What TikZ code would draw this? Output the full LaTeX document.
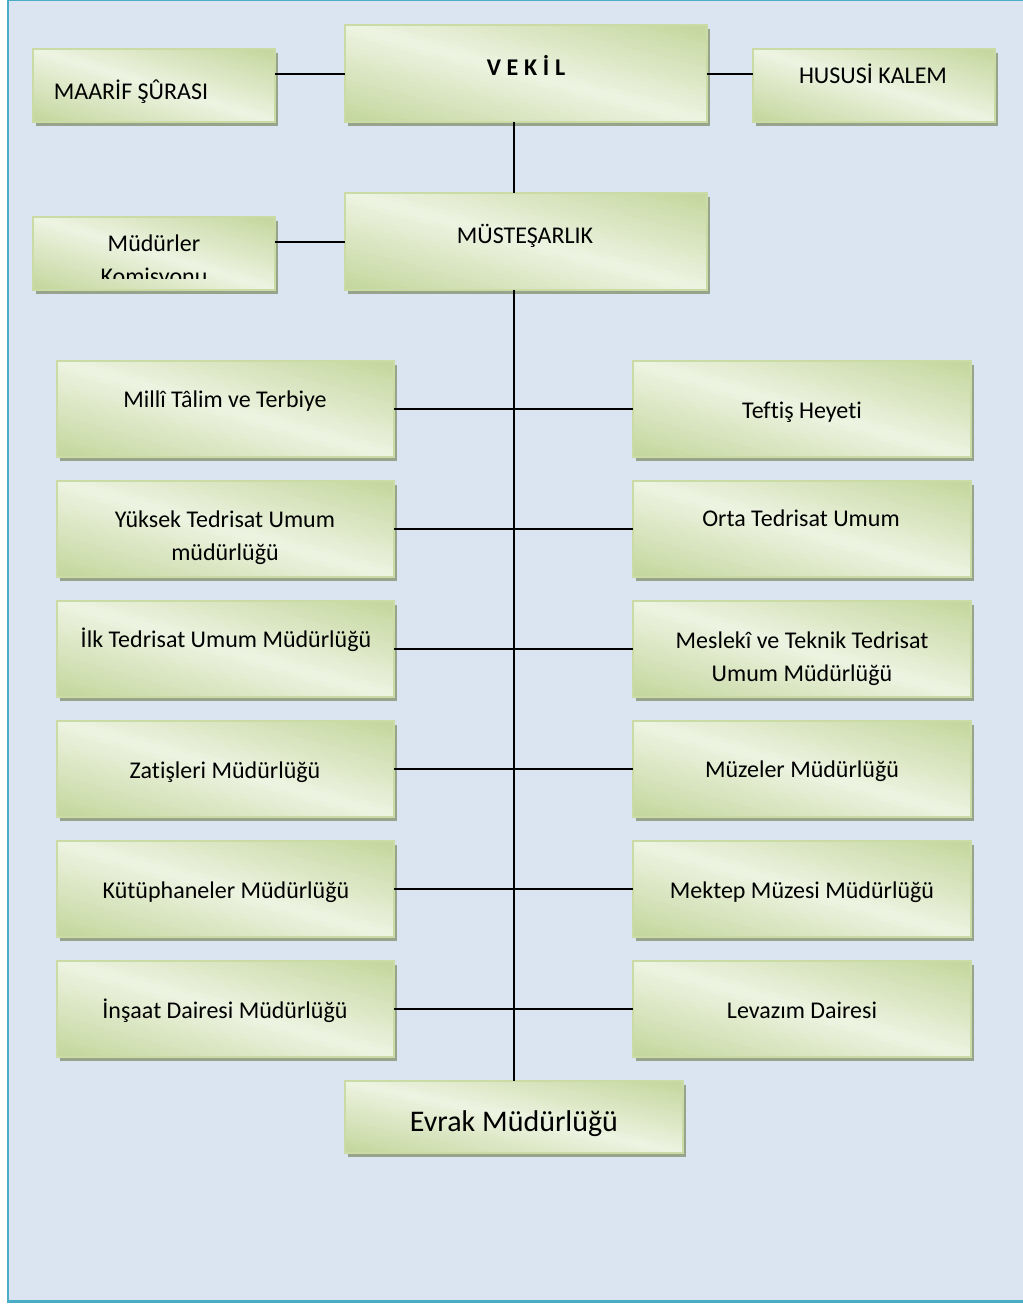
\documentclass[tikz,border=0pt]{standalone}
\usepackage{fontspec}
\setmainfont{Carlito}[Ligatures=NoCommon]

\definecolor{pagebg}{HTML}{DBE5F1}
\definecolor{framecol}{HTML}{4BACC6}
\definecolor{boxdark}{HTML}{C3D69B}
\definecolor{boxlight}{HTML}{EDF3E1}
\definecolor{boxedge}{HTML}{CADBA6}
\definecolor{boxshadow}{HTML}{97A38B}

\tikzset{
  orgbox/.style={rectangle, inner sep=0pt, outer sep=0pt,
    draw=boxedge, line width=1.2pt},
  conn/.style={line width=1.5pt, black},
  lbl/.style={anchor=base, inner sep=0pt, align=center,
    font=\fontsize{18}{24.75}\selectfont},
  biglbl/.style={anchor=base, inner sep=0pt,
    font=\fontsize{22.5}{27}\selectfont},
}

% box given by its corners (x1,y1)-(x2,y2), in pixel units:
% shadow, diagonal gradient (light along the top-left to bottom-right
% diagonal, darkest in the other two corners), then the outlined node
\newcommand\orgrect[5]{%
  \fill[boxshadow] ({#2+3},{#3+4}) rectangle ({#4+3},{#5+4});
  \pgfmathsetmacro\gcx{(#2+#4)/2}%
  \pgfmathsetmacro\gcy{(#3+#5)/2}%
  \pgfmathsetmacro\ghw{(#4-#2)/2}%
  \pgfmathsetmacro\ghh{(#5-#3)/2}%
  \begin{scope}
    \clip (#2,#3) rectangle (#4,#5);
    \foreach \i in {0,...,39}{%
      \pgfmathsetmacro\ua{-1+\i/20}%
      \pgfmathsetmacro\ub{\ua+1/20+0.01}%
      \pgfmathtruncatemacro\pct{100*abs(\ua+1/40)}%
      \fill[boxdark!\pct!boxlight]
        ({\gcx+\ghw*(2*\ua-3)},{\gcy-3*\ghh}) --
        ({\gcx+\ghw*(2*\ua+3)},{\gcy+3*\ghh}) --
        ({\gcx+\ghw*(2*\ub+3)},{\gcy+3*\ghh}) --
        ({\gcx+\ghw*(2*\ub-3)},{\gcy-3*\ghh}) -- cycle;
    }
  \end{scope}
  \node[orgbox, minimum width={(#4-#2)*0.75pt},
        minimum height={(#5-#3)*0.75pt}]
    (#1) at (\gcx,\gcy) {};}

\begin{document}
\begin{tikzpicture}[x=0.75pt, y=-0.75pt]
  \useasboundingbox (0,0) rectangle (1023,1304);
  \fill[white] (0,0) rectangle (1023,1304);
  \fill[pagebg] (8,0) rectangle (1023,1302);
  \draw[framecol, line width=2.2pt] (1030,0) -- (8,0) -- (8,1301.5) -- (1030,1301.5);

  % top rows
  \orgrect{maarif}{33}{49}{275}{122}
  \orgrect{vekil}{345}{25}{707}{122}
  \orgrect{hususi}{753}{49}{995}{122}
  \orgrect{komisyon}{33}{217}{275}{290}
  \orgrect{mustesar}{345}{193}{707}{290}

  % two columns of directorates
  \orgrect{talim}{57}{361}{394}{457}
  \orgrect{teftis}{633}{361}{971}{457}
  \orgrect{yuksek}{57}{481}{394}{577}
  \orgrect{orta}{633}{481}{971}{577}
  \orgrect{ilk}{57}{601}{394}{697}
  \orgrect{meslek}{633}{601}{971}{697}
  \orgrect{zatisleri}{57}{721}{394}{817}
  \orgrect{muzeler}{633}{721}{971}{817}
  \orgrect{kutup}{57}{841}{394}{937}
  \orgrect{mektep}{633}{841}{971}{937}
  \orgrect{insaat}{57}{961}{394}{1057}
  \orgrect{levazim}{633}{961}{971}{1057}
  \orgrect{evrak}{345}{1081}{683}{1153}

  % connectors
  \draw[conn] (vekil.west) -- (maarif.east |- vekil.west);
  \draw[conn] (vekil.east) -- (hususi.west |- vekil.east);
  \draw[conn] (mustesar.west) -- (komisyon.east |- mustesar.west);
  \draw[conn] (evrak.north |- vekil.south) -- (evrak.north |- mustesar.north);
  \draw[conn] (evrak.north |- mustesar.south) -- (evrak.north);
  \foreach \l/\r in {talim/teftis, yuksek/orta, ilk/meslek,
                     zatisleri/muzeler, kutup/mektep, insaat/levazim}
    \draw[conn] (\l.east) -- (\r.west);

  % labels (multi-line labels sit on the baseline of their last line)
  \node[lbl] (t-maarif) at (131,99) {MAARİF ŞÛRASI};
  \node[lbl] (t-vekil) at (526,75)
    {\bfseries V\kern4.3pt E\kern4.3pt K\kern4.3pt İ\kern4.3pt L};
  \node[lbl] (t-hususi) at (873,83) {HUSUSİ KALEM};
  \begin{scope}
    \clip (33,217) rectangle (275,278);
    \node[lbl] (t-komisyon) at (154,284.5) {Müdürler\\Komisyonu};
  \end{scope}
  \node[lbl] (t-mustesar) at (525,243) {MÜSTEŞARLIK};

  \node[lbl] (t-talim) at (225,407) {Millî Tâlim ve Terbiye};
  \node[lbl] (t-teftis) at (802,418) {Teftiş Heyeti};
  \node[lbl] (t-yuksek) at (225,560) {Yüksek Tedrisat Umum\\müdürlüğü};
  \node[lbl] (t-orta) at (801,526) {Orta Tedrisat Umum};
  \node[lbl] (t-ilk) at (226,647) {İlk Tedrisat Umum Müdürlüğü};
  \node[lbl] (t-meslek) at (802,681) {Meslekî ve Teknik Tedrisat\\Umum Müdürlüğü};
  \node[lbl] (t-zatisleri) at (225,778) {Zatişleri Müdürlüğü};
  \node[lbl] (t-muzeler) at (802,777) {Müzeler Müdürlüğü};
  \node[lbl] (t-kutup) at (226,898) {Kütüphaneler Müdürlüğü};
  \node[lbl] (t-mektep) at (802,898) {Mektep Müzesi Müdürlüğü};
  \node[lbl] (t-insaat) at (225,1018) {İnşaat Dairesi Müdürlüğü};
  \node[lbl] (t-levazim) at (802,1018) {Levazım Dairesi};
  \node[biglbl] (t-evrak) at (514,1131) {Evrak Müdürlüğü};
\end{tikzpicture}
\end{document}
